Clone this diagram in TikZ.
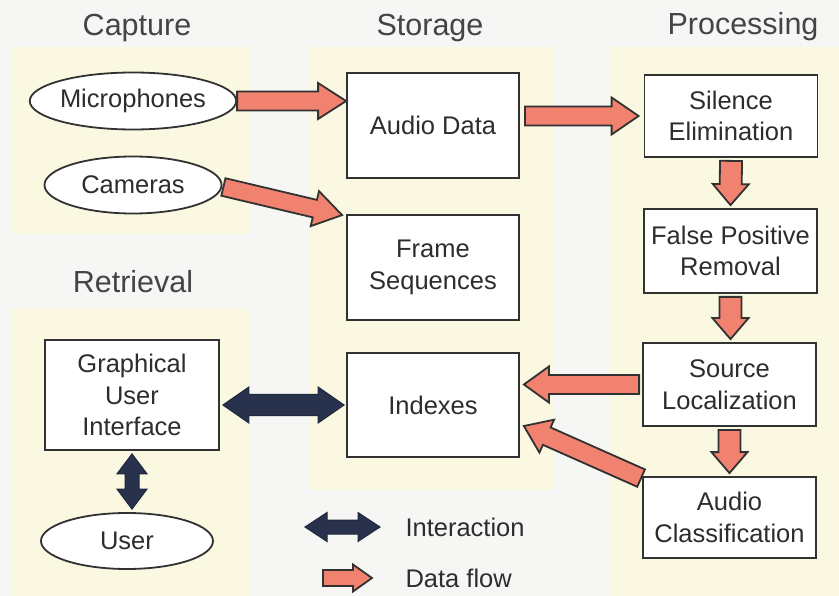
\documentclass[tikz,border=0pt]{standalone}
\usepackage{fontspec}
\setmainfont{Liberation Sans}
\usetikzlibrary{calc,shapes.geometric}
\definecolor{bgc}{RGB}{246,247,244}
\definecolor{panelc}{RGB}{250,248,224}
\definecolor{salmon}{RGB}{241,130,112}
\definecolor{navy}{RGB}{40,50,76}
\definecolor{edgec}{RGB}{50,50,50}
\definecolor{txtc}{RGB}{45,45,45}
\definecolor{titlec}{RGB}{68,68,68}
\newcommand\fatarrow[6]{%
  \draw[#1] let \p1=(#2), \p2=(#3), \n1={atan2(\y2-\y1,\x2-\x1)}, \n2={veclen(\x2-\x1,\y2-\y1)} in
    [shift={(\p1)}, rotate=\n1]
    (0pt,-#4pt) -- ({\n2-#6pt},-#4pt) -- ({\n2-#6pt},-#5pt) -- ({\n2+0pt},0pt)
    -- ({\n2-#6pt},#5pt) -- ({\n2-#6pt},#4pt) -- (0pt,#4pt) -- cycle;}
\newcommand\fatdarrow[6]{%
  \draw[#1] let \p1=(#2), \p2=(#3), \n1={atan2(\y2-\y1,\x2-\x1)}, \n2={veclen(\x2-\x1,\y2-\y1)} in
    [shift={(\p1)}, rotate=\n1]
    (0pt,0pt) -- (#6pt,#5pt) -- (#6pt,#4pt) -- ({\n2-#6pt},#4pt) -- ({\n2-#6pt},#5pt) -- ({\n2+0pt},0pt)
    -- ({\n2-#6pt},-#5pt) -- ({\n2-#6pt},-#4pt) -- (#6pt,-#4pt) -- (#6pt,-#5pt) -- cycle;}
\begin{document}
\begin{tikzpicture}[x=1pt,y=-1pt,
  panel/.style={fill=panelc, draw=none},
  title/.style={font=\fontsize{30.5}{36}\selectfont, text=titlec, anchor=base},
  box/.style={draw=edgec, line width=1.8pt, fill=white, inner sep=0pt, align=center,
    font=\fontsize{25.5}{31.5}\selectfont, text=txtc},
  oval/.style={ellipse, draw=edgec, line width=1.8pt, fill=white, inner sep=0pt,
    font=\fontsize{25.5}{31.5}\selectfont, text=txtc},
  legtext/.style={font=\fontsize{25.5}{31.5}\selectfont, text=txtc, anchor=west},
  dataflow/.style={fill=salmon, draw=edgec, line width=1.8pt, line join=miter},
  interact/.style={fill=navy, draw=navy!80!black, line width=1pt, line join=miter}]
\useasboundingbox[fill=bgc] (0,0) rectangle (839,596);
% panels
\fill[panel] (12,47) rectangle (250,234);
\fill[panel] (310,47) rectangle (553,490);
\fill[panel] (610,47) rectangle (839,596);
\fill[panel] (12,308) rectangle (250,596);
% titles
\node[title] (tcap) at (137,36) {Capture};
\node[title] (tsto) at (430,36) {Storage};
\node[title] (tpro) at (743,35) {Processing};
\node[title] (tret) at (133,293) {Retrieval};
% nodes
\node[oval, minimum width=177pt, minimum height=57pt] (mic) at (133,101) {Microphones};
\node[oval, minimum width=177pt, minimum height=57pt] (cam) at (133,185) {Cameras};
\node[box, minimum width=172pt, minimum height=105pt] (audio) at (433,125.5) {Audio Data};
\node[box, minimum width=172pt, minimum height=105pt] (frame) at (433,267.5) {Frame\\Sequences};
\node[box, minimum width=172pt, minimum height=104pt] (indexes) at (433,405) {Indexes};
\node[box, minimum width=173pt, minimum height=82pt] (silence) at (731,116) {Silence\\Elimination};
\node[box, minimum width=173pt, minimum height=84pt] (fpr) at (730.5,251) {False Positive\\Removal};
\node[box, minimum width=173pt, minimum height=83pt] (sl) at (729.5,384.5) {Source\\Localization};
\node[box, minimum width=173pt, minimum height=81pt] (ac) at (729.5,517.5) {Audio\\Classification};
\node[box, minimum width=174pt, minimum height=110pt] (gui) at (132,395) {Graphical\\User\\Interface};
\node[oval, minimum width=172pt, minimum height=56pt] (user) at (127,541) {User};
% data flow arrows
\fatarrow{dataflow}{mic.east}{audio.west |- mic.east}{9.5}{18}{28}
\fatarrow{dataflow}{[shift={(1pt,-2pt)}]cam.east}{[shift={(-4pt,-1pt)}]frame.north west}{9}{18}{28}
\fatarrow{dataflow}{[xshift=5pt]audio.east |- silence.west}{[xshift=-5pt]silence.west}{9.5}{18.5}{27}
\fatarrow{dataflow}{[yshift=-3pt]silence.south}{[yshift=3pt]fpr.north}{11}{18}{21}
\fatarrow{dataflow}{[yshift=-3pt]fpr.south}{[yshift=3pt]fpr.south |- sl.north}{11}{18}{21}
\fatarrow{dataflow}{[yshift=-3pt]sl.south}{[yshift=3pt]sl.south |- ac.north}{11}{18}{21}
\fatarrow{dataflow}{[xshift=-3pt]sl.west}{[xshift=4pt]indexes.east |- sl.west}{9.5}{18}{25}
\fatarrow{dataflow}{[shift={(-1pt,-2pt)}]ac.north west}{[shift={(4pt,-21pt)}]indexes.east}{9.5}{18}{25}
% interaction arrows
\fatdarrow{interact}{[xshift=3pt]gui.east |- indexes.west}{[xshift=-2pt]indexes.west}{10.5}{18}{26}
\fatdarrow{interact}{[yshift=-3pt]gui.south}{[yshift=3pt]gui.south |- user.north}{7}{15}{20}
% legend
\coordinate (li1) at (305,527);
\coordinate (li2) at (380,527);
\coordinate (ld1) at (323,578);
\coordinate (ld2) at (372,578);
\fatdarrow{interact}{li1}{li2}{7}{14.5}{22}
\fatarrow{dataflow}{ld1}{ld2}{8}{13.5}{19}
\node[legtext] (lint) at (402,527) {Interaction};
\node[legtext] (ldat) at (402,578) {Data flow};
\end{tikzpicture}
\end{document}
